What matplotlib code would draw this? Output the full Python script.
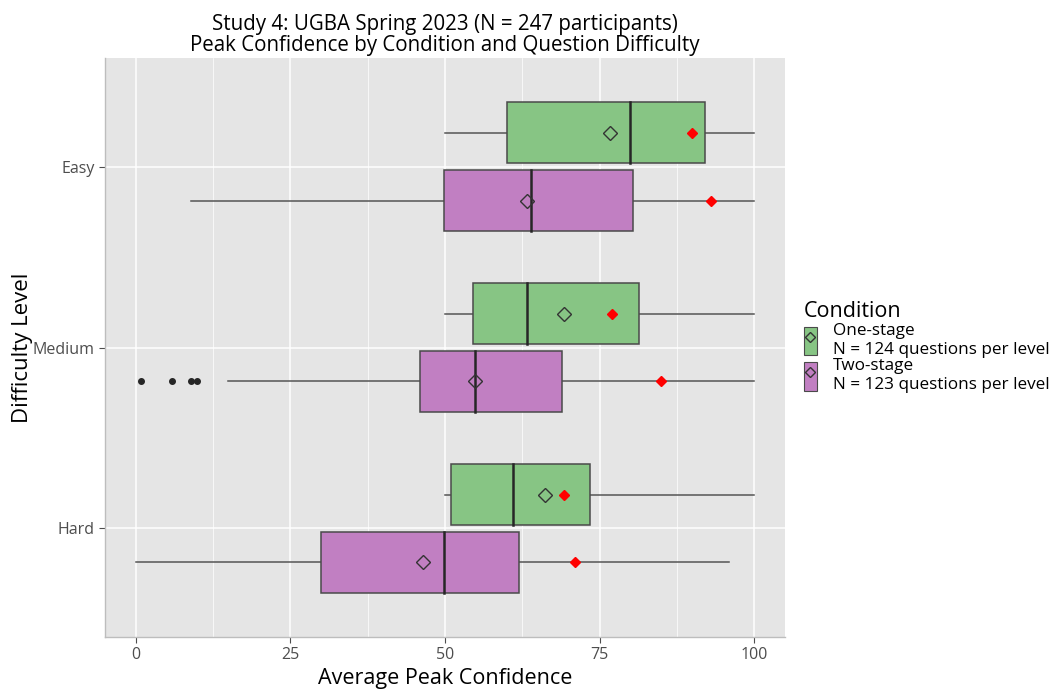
import numpy as np
import matplotlib.pyplot as plt
from matplotlib.patches import Rectangle, Patch
from matplotlib.lines import Line2D
from matplotlib.legend_handler import HandlerTuple

plt.rcParams['font.family'] = ['Open Sans', 'DejaVu Sans']

# data (Hard, Medium, Easy)
levels = ["Hard", "Medium", "Easy"]
conditions = ["One-stage", "Two-stage"]
legend_labels = ["One-stage\nN = 124 questions per level",
                 "Two-stage\nN = 123 questions per level"]

# [whisker_lo, q1, median, q3, whisker_hi]
one_stage_stats = [[50, 50.9, 61.0, 73.5, 100],
                   [50, 54.6, 63.3, 81.3, 100],
                   [50, 60.0, 80.0, 92.0, 100]]
two_stage_stats = [[0, 29.9, 49.9, 62.0, 95.9],
                   [14.9, 45.9, 54.9, 69.0, 100],
                   [8.9, 49.9, 63.9, 80.4, 100]]
one_stage_mean = [66.2, 69.2, 76.7]
two_stage_mean = [46.4, 54.9, 63.2]
one_stage_red = [69.3, 77.0, 89.9]
two_stage_red = [71.1, 84.9, 93.0]
one_stage_outliers = [[], [], []]
two_stage_outliers = [[], [0.9, 5.9, 8.9, 9.9], []]

colors = ["#87C584", "#C17FC2"]
offsets = [0.1875, -0.1875]

fig = plt.figure(figsize=(10.58, 6.94), dpi=100)
ax = fig.add_axes([0.0992, 0.0821, 0.742 - 0.0992, 0.9164 - 0.0821])
ax.set_facecolor("#E5E5E5")

ax.set_xlim(-5, 105)
ax.set_ylim(0.4, 3.6)
ax.set_xticks([0, 25, 50, 75, 100])
ax.set_xticks([12.5, 37.5, 62.5, 87.5], minor=True)
ax.set_yticks([1, 2, 3])
ax.set_yticklabels(levels)
ax.grid(True, which="major", color="white", linewidth=1.1, zorder=0)
ax.grid(True, which="minor", axis="x", color="white", linewidth=0.5, zorder=0)
ax.set_axisbelow(True)
for side in ["top", "right"]:
    ax.spines[side].set_visible(False)
for side in ["left", "bottom"]:
    ax.spines[side].set_color("#BDBDBD")
    ax.spines[side].set_linewidth(1.0)
ax.tick_params(axis="both", which="major", colors="#4D4D4D", labelsize=11.5, length=4, width=0.8)
ax.tick_params(axis="x", which="minor", length=0)
for lab in ax.get_xticklabels() + ax.get_yticklabels():
    lab.set_color("#4D4D4D")

h = 0.335
all_stats = [one_stage_stats, two_stage_stats]
all_means = [one_stage_mean, two_stage_mean]
all_red = [one_stage_red, two_stage_red]
all_out = [one_stage_outliers, two_stage_outliers]
for c in range(2):
    for i in range(3):
        y = i + 1 + offsets[c]
        lo, q1, med, q3, hi = all_stats[c][i]
        ax.plot([lo, q1], [y, y], color="#555555", lw=1.1, zorder=2)
        ax.plot([q3, hi], [y, y], color="#555555", lw=1.1, zorder=2)
        ax.add_patch(Rectangle((q1, y - h / 2), q3 - q1, h, facecolor=colors[c],
                               edgecolor="#4A4A4A", lw=1.1, zorder=3))
        ax.plot([med, med], [y - h / 2, y + h / 2], color="#262626", lw=1.8, zorder=4)
        ax.plot(all_means[c][i], y, marker="D", ms=7, mfc="none", mec="#333333",
                mew=1.0, zorder=5)
        ax.plot(all_red[c][i], y, marker="D", ms=5, mfc="red", mec="red", zorder=5)
        if all_out[c][i]:
            ax.plot(all_out[c][i], [y] * len(all_out[c][i]), "o", color="#262626",
                    ms=4, zorder=5)

ax.set_xlabel("Average Peak Confidence", fontsize=15.5, color="black", labelpad=3)
ax.set_ylabel("Difficulty Level", fontsize=16, color="black", labelpad=0)
ax.set_title("Study 4: UGBA Spring 2023 (N = 247 participants)\n"
             "Peak Confidence by Condition and Question Difficulty",
             fontsize=14.8, pad=5, linespacing=1.0)

handles = []
for c in range(2):
    bg = Patch(facecolor="#F2F2F2", edgecolor="none")
    box = Patch(facecolor=colors[c], edgecolor="#4A4A4A", lw=0.8)
    dia = Line2D([], [], marker="D", ms=5, mfc=colors[c], mec="#333333", ls="none")
    handles.append((bg, box, dia))
leg = fig.legend(handles, legend_labels, title="Condition", loc="upper left",
                 bbox_to_anchor=(0.745, 0.588), frameon=False, fontsize=12.3,
                 title_fontsize=15.5, handlelength=0.8, handleheight=2.2,
                 handletextpad=0.9, labelspacing=0.05,
                 handler_map={tuple: HandlerTuple(ndivide=1, pad=0)})
leg._legend_box.align = "left"

fig.savefig("out.png", dpi=100)
